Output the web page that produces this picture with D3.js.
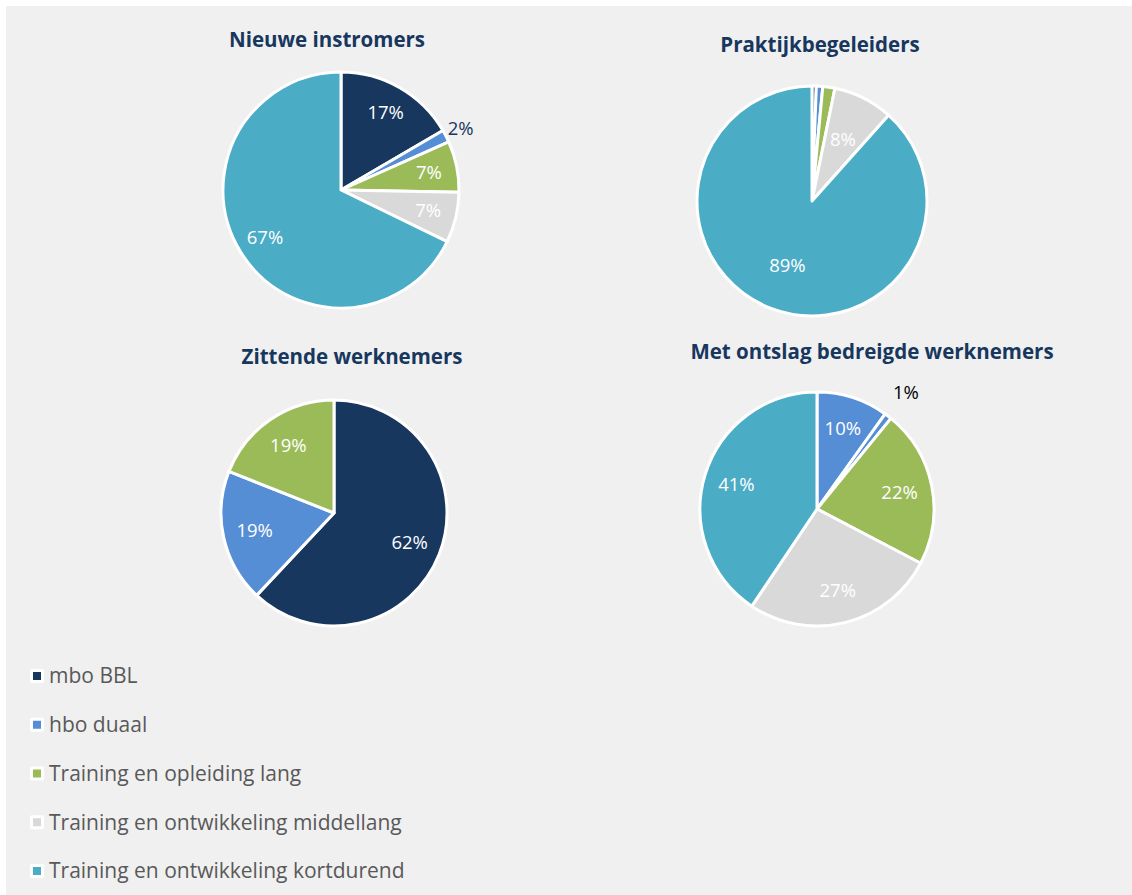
<!DOCTYPE html>
<html>
<head>
<meta charset="utf-8">
<script src="https://cdn.jsdelivr.net/npm/d3@7"></script>
<style>
  body { margin: 0; background: #ffffff; }
  svg { display: block; }
</style>
</head>
<body>
<script>
// categories and colours (legend order)
const categories = [
  "mbo BBL",
  "hbo duaal",
  "Training en opleiding lang",
  "Training en ontwikkeling middellang",
  "Training en ontwikkeling kortdurend"
];
const colors = ["#17375e", "#558ed5", "#9bbb59", "#d9d9d9", "#4bacc6"];

// chart titles
const titles = ["Nieuwe instromers", "Praktijkbegeleiders", "Zittende werknemers", "Met ontslag bedreigde werknemers"];

// slice values per chart (clockwise from 12 o'clock) + category index of each slice
const nieuweValues = [16.6, 1.7, 7.0, 6.9, 67.8];
const nieuweCats = [0, 1, 2, 3, 4];
const nieuweLabels = ["17%", "2%", "7%", "7%", "67%"];

const praktijkValues = [0.6, 0.9, 1.7, 8.4, 88.4];
const praktijkCats = [0, 1, 2, 3, 4];
const praktijkLabels = [null, null, null, "8%", "89%"];

const zittendeValues = [62, 19, 19];
const zittendeCats = [0, 1, 2];
const zittendeLabels = ["62%", "19%", "19%"];

const ontslagValues = [10, 1, 22, 27, 41];
const ontslagCats = [1, 1, 2, 3, 4];
const ontslagLabels = ["10%", "1%", "22%", "27%", "41%"];

const W = 1132, H = 895;
const font = "'Open Sans', sans-serif";

const svg = d3.select("body").append("svg")
    .attr("width", W)
    .attr("height", H);

svg.append("rect")
    .attr("x", 6).attr("y", 6)
    .attr("width", W - 6).attr("height", H - 6)
    .attr("fill", "#f0f0f0");

const charts = [
  { title: titles[0], values: nieuweValues, cats: nieuweCats, labels: nieuweLabels,
    cx: 341, cy: 190, r: 118, tx: 327, ty: 47, outside: [1], outColor: "#17375e", outF: 1.14, inF: 0.76 },
  { title: titles[1], values: praktijkValues, cats: praktijkCats, labels: praktijkLabels,
    cx: 812, cy: 201, r: 115, tx: 820, ty: 52, outside: [], outColor: "#000", outF: 1.2, inF: 0.6 },
  { title: titles[2], values: zittendeValues, cats: zittendeCats, labels: zittendeLabels,
    cx: 334, cy: 513, r: 113, tx: 352, ty: 364, outside: [], outColor: "#000", outF: 1.2, inF: 0.72 },
  { title: titles[3], values: ontslagValues, cats: ontslagCats, labels: ontslagLabels,
    cx: 817, cy: 509, r: 117, tx: 872, ty: 359, outside: [1], outColor: "#000", outF: 1.25, inF: 0.72 }
];

const pie = d3.pie().sort(null).value(d => d.value);

charts.forEach(c => {
  const g = svg.append("g").attr("transform", `translate(${c.cx},${c.cy})`);

  svg.append("text")
      .attr("x", c.tx).attr("y", c.ty)
      .attr("text-anchor", "middle")
      .attr("font-family", font)
      .attr("font-weight", 700)
      .attr("font-size", 20.5)
      .attr("fill", "#17375e")
      .text(c.title);

  const data = c.values.map((v, i) => ({ value: v, cat: c.cats[i], label: c.labels[i], idx: i }));
  const arcs = pie(data);

  const arc = d3.arc().innerRadius(0).outerRadius(c.r);
  const inArc = d3.arc().innerRadius(c.r * c.inF).outerRadius(c.r * c.inF);
  const outArc = d3.arc().innerRadius(c.r * c.outF).outerRadius(c.r * c.outF);

  g.selectAll("path")
    .data(arcs)
    .join("path")
      .attr("d", arc)
      .attr("fill", d => colors[d.data.cat])
      .attr("stroke", "#ffffff")
      .attr("stroke-width", 3)
      .attr("stroke-linejoin", "round");

  g.selectAll("text")
    .data(arcs.filter(d => d.data.label))
    .join("text")
      .attr("transform", d => {
        const a = c.outside.includes(d.data.idx) ? outArc : inArc;
        return `translate(${a.centroid(d)})`;
      })
      .attr("text-anchor", "middle")
      .attr("dy", "0.35em")
      .attr("font-family", font)
      .attr("font-size", 18.5)
      .attr("fill", d => c.outside.includes(d.data.idx) ? c.outColor : "#ffffff")
      .text(d => d.data.label);
});

// legend
const legendY = d3.scalePoint()
    .domain(categories)
    .range([676, 871]);

const leg = svg.append("g")
  .selectAll("g")
  .data(categories)
  .join("g")
    .attr("transform", d => `translate(30,${legendY(d)})`);

leg.append("rect")
    .attr("x", 0).attr("y", -7)
    .attr("width", 14).attr("height", 14)
    .attr("rx", 2)
    .attr("fill", "#ffffff");

leg.append("rect")
    .attr("x", 3).attr("y", -4)
    .attr("width", 8).attr("height", 8)
    .attr("fill", (d, i) => colors[i]);

leg.append("text")
    .attr("x", 19)
    .attr("dy", "0.35em")
    .attr("font-family", font)
    .attr("font-size", 21)
    .attr("fill", "#595959")
    .text(d => d);
</script>
</body>
</html>
